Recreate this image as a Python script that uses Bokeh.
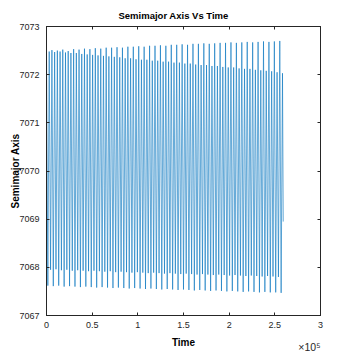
from bokeh.plotting import figure
from bokeh.models import LinearAxis, FixedTicker, Range1d, ColumnDataSource, Title
from bokeh.embed import file_html
from bokeh.resources import INLINE

# ---- data (time in s, semimajor axis in km) ----
# times of the higher maximum in each orbit
t_high_max = [0, 5940, 11880, 17820, 23760, 29700, 35640, 41580, 47520, 53460,
              59400, 65340, 71280, 77220, 83160, 89100, 95040, 100980, 106920, 112860,
              118800, 124740, 130680, 136620, 142560, 148500, 154440, 160380, 166320, 172260,
              178200, 184140, 190080, 196020, 201960, 207900, 213840, 219780, 225720, 231660,
              237600, 243540, 249480, 255420]
a_high_max = [7072.50, 7072.51, 7072.50, 7072.52, 7072.49, 7072.53, 7072.52, 7072.54, 7072.53, 7072.55,
              7072.54, 7072.56, 7072.56, 7072.57, 7072.56, 7072.58, 7072.58, 7072.59, 7072.58, 7072.60,
              7072.60, 7072.61, 7072.60, 7072.62, 7072.62, 7072.63, 7072.62, 7072.64, 7072.64, 7072.65,
              7072.64, 7072.65, 7072.66, 7072.66, 7072.67, 7072.66, 7072.67, 7072.68, 7072.67, 7072.68,
              7072.69, 7072.68, 7072.69, 7072.70]

# times of the deeper minimum in each orbit
t_deep_min = [1485, 7425, 13365, 19305, 25245, 31185, 37125, 43065, 49005, 54945,
              60885, 66825, 72765, 78705, 84645, 90585, 96525, 102465, 108405, 114345,
              120285, 126225, 132165, 138105, 144045, 149985, 155925, 161865, 167805, 173745,
              179685, 185625, 191565, 197505, 203445, 209385, 215325, 221265, 227205, 233145,
              239085, 245025, 250965, 256905]
a_deep_min = [7067.62, 7067.61, 7067.62, 7067.60, 7067.61, 7067.60, 7067.59, 7067.60, 7067.59, 7067.58,
              7067.59, 7067.58, 7067.57, 7067.58, 7067.57, 7067.56, 7067.57, 7067.56, 7067.55, 7067.56,
              7067.55, 7067.54, 7067.55, 7067.54, 7067.53, 7067.54, 7067.53, 7067.52, 7067.53, 7067.52,
              7067.51, 7067.52, 7067.51, 7067.50, 7067.51, 7067.50, 7067.49, 7067.50, 7067.49, 7067.48,
              7067.49, 7067.48, 7067.48, 7067.47]

# times of the lower maximum in each orbit
t_low_max = [2970, 8910, 14850, 20790, 26730, 32670, 38610, 44550, 50490, 56430,
             62370, 68310, 74250, 80190, 86130, 92070, 98010, 103950, 109890, 115830,
             121770, 127710, 133650, 139590, 145530, 151470, 157410, 163350, 169290, 175230,
             181170, 187110, 193050, 198990, 204930, 210870, 216810, 222750, 228690, 234630,
             240570, 246510, 252450, 258390]
a_low_max = [7072.48, 7072.47, 7072.48, 7072.46, 7072.45, 7072.45, 7072.43, 7072.42, 7072.41, 7072.40,
             7072.39, 7072.38, 7072.37, 7072.36, 7072.34, 7072.34, 7072.32, 7072.31, 7072.31, 7072.29,
             7072.29, 7072.27, 7072.27, 7072.25, 7072.25, 7072.23, 7072.23, 7072.21, 7072.20, 7072.20,
             7072.18, 7072.18, 7072.16, 7072.15, 7072.15, 7072.13, 7072.12, 7072.12, 7072.10, 7072.09,
             7072.08, 7072.07, 7072.05, 7072.03]

# times of the shallower minimum in each orbit
t_shallow_min = [4455, 10395, 16335, 22275, 28215, 34155, 40095, 46035, 51975, 57915,
                 63855, 69795, 75735, 81675, 87615, 93555, 99495, 105435, 111375, 117315,
                 123255, 129195, 135135, 141075, 147015, 152955, 158895, 164835, 170775, 176715,
                 182655, 188595, 194535, 200475, 206415, 212355, 218295, 224235, 230175, 236115,
                 242055, 247995, 253935]
a_shallow_min = [7067.95, 7067.96, 7067.94, 7067.95, 7067.93, 7067.94, 7067.93, 7067.92, 7067.93, 7067.92,
                 7067.91, 7067.92, 7067.90, 7067.91, 7067.90, 7067.89, 7067.90, 7067.89, 7067.88, 7067.89,
                 7067.88, 7067.87, 7067.88, 7067.87, 7067.86, 7067.87, 7067.86, 7067.85, 7067.86, 7067.85,
                 7067.84, 7067.85, 7067.84, 7067.83, 7067.84, 7067.83, 7067.82, 7067.83, 7067.82, 7067.81,
                 7067.82, 7067.81, 7067.80]

# last sample of the run
t_last = [259200]
a_last = [7068.95]

x_ticks = [0, 50000, 100000, 150000, 200000, 250000, 300000]
x_tick_labels = ["0", "0.5", "1", "1.5", "2", "2.5", "3"]
y_ticks = [7067, 7068, 7069, 7070, 7071, 7072, 7073]
x_multiplier_text = "\u00d710\u2075"

# ---- assemble the series in time order ----
pairs = (list(zip(t_high_max, a_high_max)) + list(zip(t_deep_min, a_deep_min)) +
         list(zip(t_low_max, a_low_max)) + list(zip(t_shallow_min, a_shallow_min)) +
         list(zip(t_last, a_last)))
pairs.sort()
src = ColumnDataSource(dict(t=[q[0] for q in pairs], a=[q[1] for q in pairs]))

FONT = "Liberation Sans"
AX = "#262626"

p = figure(width=354, height=354, output_backend="svg", toolbar_location=None,
           x_range=Range1d(0, 300000), y_range=Range1d(7067, 7073),
           min_border_left=46, min_border_right=34, min_border_top=26, min_border_bottom=39,
           background_fill_color="white", border_fill_color="white")
p.grid.visible = False
p.outline_line_color = AX

p.line("t", "a", source=src, line_color="#0072BD", line_width=0.6)

tick_x = FixedTicker(ticks=x_ticks)
tick_y = FixedTicker(ticks=y_ticks)

xa = p.xaxis[0]
xa.ticker = tick_x
xa.major_label_overrides = {t: s for t, s in zip(x_ticks, x_tick_labels)}
ya = p.yaxis[0]
ya.ticker = tick_y

for ax in (xa, ya):
    ax.axis_line_color = AX
    ax.major_tick_line_color = AX
    ax.major_tick_in = 3
    ax.major_tick_out = 0
    ax.minor_tick_line_color = None
    ax.major_label_text_font = FONT
    ax.major_label_text_font_size = "9px"
    ax.major_label_text_color = AX
    ax.axis_label_text_font = FONT
    ax.axis_label_text_font_style = "bold"
    ax.axis_label_text_font_size = "10px"
    ax.axis_label_text_color = "black"

xa.axis_label = "Time"
xa.major_label_standoff = 6
xa.axis_label_standoff = 6
ya.axis_label = "Semimajor Axis"
ya.major_label_standoff = 7
try:
    ya.axis_label_standoff = -5
except Exception:
    ya.axis_label_standoff = 0

for loc, tk, tv in (("above", tick_x, x_ticks), ("right", tick_y, y_ticks)):
    ax2 = LinearAxis(ticker=tk, major_label_overrides={t: "" for t in tv}, major_label_standoff=0,
                     axis_line_color=AX, major_tick_line_color=AX, major_tick_in=3, major_tick_out=0,
                     minor_tick_line_color=None)
    p.add_layout(ax2, loc)

# exponent note of the x axis (x10^5), right-aligned under the axis
mult = Title(text=x_multiplier_text, align="right", vertical_align="top", offset=0,
             text_font=FONT, text_font_size="10.5px", text_font_style="normal", text_color=AX)
try:
    mult.standoff = -19
except Exception:
    mult.standoff = 0
p.add_layout(mult, "below")

p.title.text = "Semimajor Axis Vs Time"
p.title.text_font = FONT
p.title.text_font_style = "bold"
p.title.text_font_size = "9.5px"
p.title.text_color = "black"
p.title.align = "left"
p.title.offset = 72
p.title.vertical_align = "top"
p.title.standoff = 8

open("out.html", "w").write(file_html(p, INLINE))
